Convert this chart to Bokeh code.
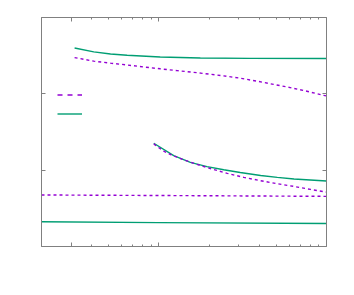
from bokeh.plotting import figure
from bokeh.models import (Range1d, LogAxis, LinearAxis, FixedTicker, Legend, LegendItem)
from bokeh.embed import file_html
from bokeh.resources import INLINE

PURPLE = "#9400D3"
GREEN = "#009E73"
GRAY = "#808080"

# Upper pair
top_green_x = [0.315, 0.41, 0.516, 0.648, 1.02, 1.77, 3.51, 10.0]
top_green_y = [2.601, 2.550, 2.522, 2.505, 2.483, 2.470, 2.465, 2.462]
top_purple_x = [0.315, 0.41, 0.516, 0.648, 0.814, 1.02, 1.287, 1.77, 2.44, 3.06, 3.85, 4.84, 6.08, 7.64, 9.6, 10.0]
top_purple_y = [2.475, 2.428, 2.402, 2.378, 2.352, 2.328, 2.304, 2.272, 2.235, 2.205, 2.166, 2.124, 2.082, 2.034, 1.980, 1.973]

# Middle pair
mid_green_x = [0.934, 1.228, 1.544, 1.94, 2.44, 3.06, 4.05, 5.09, 6.40, 10.0]
mid_green_y = [1.353, 1.191, 1.103, 1.047, 1.005, 0.970, 0.930, 0.905, 0.885, 0.858]
mid_purple_x = [0.934, 0.978, 1.071, 1.174, 1.409, 1.692, 2.03, 2.56, 3.22, 4.05, 5.09, 6.40, 8.03, 10.0]
mid_purple_y = [1.345, 1.310, 1.250, 1.205, 1.135, 1.075, 1.022, 0.958, 0.905, 0.862, 0.822, 0.787, 0.748, 0.712]

# Lower pair
low_purple_x = [0.2, 1.0, 10.0]
low_purple_y = [0.675, 0.668, 0.657]
low_green_x = [0.2, 1.0, 10.0]
low_green_y = [0.324, 0.313, 0.302]

x_major = [0.3, 1, 10]
x_minor = [0.2, 0.4, 0.5, 0.6, 0.7, 0.8, 0.9, 2, 3, 4, 5, 6, 7, 8, 9]
y_major = [0, 1, 2, 3]

p = figure(width=338, height=279, x_axis_type="log",
           x_range=Range1d(0.2, 10), y_range=Range1d(0, 3),
           output_backend="svg", toolbar_location=None,
           min_border_left=41, min_border_right=12, min_border_top=17, min_border_bottom=33)
p.xgrid.visible = False
p.ygrid.visible = False
p.outline_line_color = None
p.background_fill_color = "white"
p.border_fill_color = "white"

top_ax = LogAxis()
right_ax = LinearAxis()
p.add_layout(top_ax, "above")
p.add_layout(right_ax, "right")

for ax in p.xaxis:
    ax.ticker = FixedTicker(ticks=x_major, minor_ticks=x_minor)
for ax in p.yaxis:
    ax.ticker = FixedTicker(ticks=y_major, minor_ticks=[])
for ax in p.xaxis + p.yaxis:
    ax.axis_line_color = GRAY
    ax.axis_line_width = 1
    ax.major_tick_line_color = GRAY
    ax.minor_tick_line_color = GRAY
    ax.major_tick_in = 4
    ax.major_tick_out = 0
    ax.minor_tick_in = 2
    ax.minor_tick_out = 0
    ax.major_label_text_font_size = "1px"
    ax.major_label_text_alpha = 0
    ax.major_label_standoff = 0

lw = 1.4
p.line(top_green_x, top_green_y, line_color=GREEN, line_width=lw)
p.line(top_purple_x, top_purple_y, line_color=PURPLE, line_width=lw, line_dash="3 3")
p.line(mid_green_x, mid_green_y, line_color=GREEN, line_width=lw)
p.line(mid_purple_x, mid_purple_y, line_color=PURPLE, line_width=lw, line_dash="3 3")
p.line(low_purple_x, low_purple_y, line_color=PURPLE, line_width=lw, line_dash="3 3")
p.line(low_green_x, low_green_y, line_color=GREEN, line_width=lw)

# legend-only renderers (hidden on the plot, drawn in the key)
leg_purple = p.line(low_purple_x, low_purple_y, line_color=PURPLE, line_width=lw,
                    line_dash="5 5", visible=False)
leg_green = p.line(low_green_x, low_green_y, line_color=GREEN, line_width=lw, visible=False)

legend = Legend(items=[LegendItem(label=" ", renderers=[leg_purple]),
                       LegendItem(label=" ", renderers=[leg_green])],
                location=(16, 123), padding=0, margin=0, spacing=0,
                glyph_width=25, glyph_height=19, label_text_font_size="8px",
                border_line_color=None, background_fill_alpha=0)
p.add_layout(legend, "center")

open("out.html", "w").write(file_html(p, INLINE))
